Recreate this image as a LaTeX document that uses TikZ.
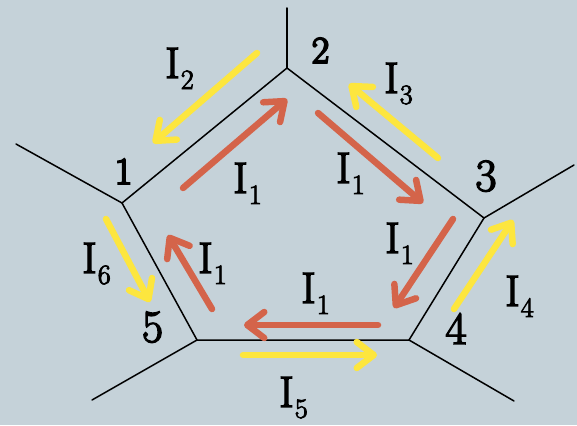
\documentclass[tikz,border=0pt]{standalone}
\usepackage{fontspec}
\usetikzlibrary{arrows.meta}
\definecolor{bgc}{HTML}{C5D2D9}
\definecolor{redc}{HTML}{D4644A}
\definecolor{yelc}{HTML}{FDE63E}
\newfontfamily\heavylm{Latin Modern Roman}[FakeBold=3.2]
\newfontfamily\heavierlm{Latin Modern Roman}[FakeBold=5]
\newcommand\Ilab[1]{I\kern1.2pt\raisebox{-11pt}{\fontsize{28}{28}\selectfont #1}}
\tikzset{
  wire/.style={line width=1.5pt, black, line cap=round},
  curr/.style={line width=6.5pt, line cap=round, -{Straight Barb[length=17pt,width=26pt,round]}},
  rarr/.style={curr, draw=redc},
  yarr/.style={curr, draw=yelc},
  ilab/.style={anchor=base west, inner sep=0pt, font=\heavylm\fontsize{44}{44}\selectfont},
  vlab/.style={anchor=base, inner sep=0pt, font=\heavylm\fontsize{46}{46}\selectfont},
  vlabb/.style={anchor=base, inner sep=0pt, font=\heavierlm\fontsize{38}{38}\selectfont},
}
\begin{document}
\begin{tikzpicture}[x=1pt,y=-1pt]
\fill[bgc] (0,0) rectangle (577,425);
\useasboundingbox (0,0) rectangle (577,425);
% vertices
\coordinate (v1) at (122,203);
\coordinate (v2) at (287,68);
\coordinate (v3) at (484,218);
\coordinate (v4) at (409,340);
\coordinate (v5) at (197,340);
% outer ends
\coordinate (o1) at (16,144);
\coordinate (o2) at (287,8);
\coordinate (o3) at (574,165);
\coordinate (o4) at (514,401);
\coordinate (o5) at (92,400);
\draw[wire, line join=miter] (v1) -- (v2) -- (v3) -- (v4) -- (v5) -- cycle;
\foreach \i in {1,...,5} \draw[wire] (v\i) -- (o\i);
% red arrows (I1)
\coordinate (r12a) at (183,188); \coordinate (r12b) at (287,99);
\coordinate (r23a) at (318,113); \coordinate (r23b) at (423,203);
\coordinate (r34a) at (453,219); \coordinate (r34b) at (394,308);
\coordinate (r45a) at (378,325); \coordinate (r45b) at (244,325);
\coordinate (r51a) at (212,309); \coordinate (r51b) at (168,235);
\draw[rarr] (r12a) -- (r12b);
\draw[rarr] (r23a) -- (r23b);
\draw[rarr] (r34a) -- (r34b);
\draw[rarr] (r45a) -- (r45b);
\draw[rarr] (r51a) -- (r51b);
% yellow arrows
\coordinate (y2a) at (257,53);  \coordinate (y2b) at (153,143);
\coordinate (y3a) at (438,158); \coordinate (y3b) at (349,84);
\coordinate (y4a) at (454,309); \coordinate (y4b) at (513,220);
\coordinate (y5a) at (243,355); \coordinate (y5b) at (377,355);
\coordinate (y6a) at (106,219); \coordinate (y6b) at (150,302);
\draw[yarr] (y2a) -- (y2b);
\draw[yarr] (y3a) -- (y3b);
\draw[yarr] (y4a) -- (y4b);
\draw[yarr] (y5a) -- (y5b);
\draw[yarr] (y6a) -- (y6b);
% current labels
\node[ilab] (lI2) at (165,78) {\Ilab{2}};
\node[ilab] (lI3) at (384,93) {\Ilab{3}};
\node[ilab] (lI4) at (505,306) {\Ilab{4}};
\node[ilab] (lI5) at (279,407) {\Ilab{5}};
\node[ilab] (lI6) at (82,273) {\Ilab{6}};
\node[ilab] (lIa) at (233,193) {\Ilab{1}};
\node[ilab] (lIb) at (336,183) {\Ilab{1}};
\node[ilab] (lIc) at (385,253) {\Ilab{1}};
\node[ilab] (lId) at (301,303) {\Ilab{1}};
\node[ilab] (lIe) at (198,273) {\Ilab{1}};
% vertex labels
\node[vlabb] (n1) at (123.5,184) {1};
\node[vlabb] (n2) at (320.5,63) {2};
\node[vlab] (n3) at (486,191) {3};
\node[vlab] (n4) at (456,344) {4};
\node[vlab] (n5) at (152.5,342) {5};
\end{tikzpicture}
\end{document}
